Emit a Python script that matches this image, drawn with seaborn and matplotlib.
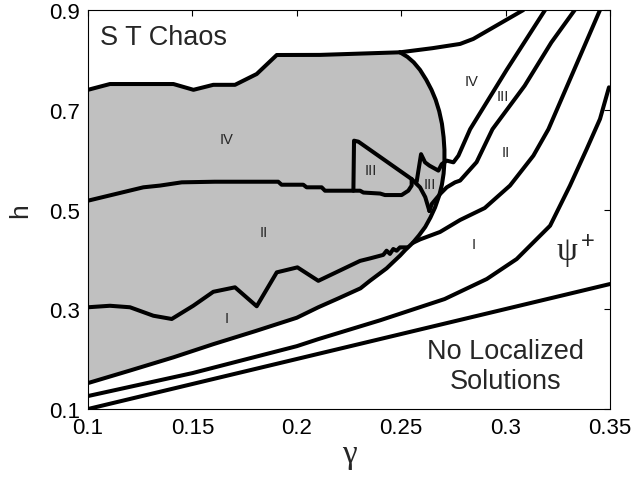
import matplotlib
matplotlib.use('Agg')
import matplotlib.pyplot as plt
import seaborn as sns

# --- phase boundaries (gamma, h) ---
top_g = [0.1, 0.1105, 0.1409, 0.1505, 0.160, 0.1704, 0.1808, 0.1904, 0.2111, 0.2494]
top_h = [0.740, 0.7516, 0.7516, 0.740, 0.750, 0.750, 0.7717, 0.8098, 0.810, 0.8152]

top_ext_g = [0.2494, 0.2650, 0.2782, 0.2845, 0.3085]
top_ext_h = [0.8152, 0.8235, 0.832, 0.842, 0.900]

# right + lower edge of the chaotic region
edge_g = [0.2494, 0.2530, 0.2560, 0.2590, 0.2620, 0.2645, 0.2665, 0.2682, 0.2695,
          0.2703, 0.2707, 0.2707, 0.2703, 0.2695, 0.2682, 0.2662, 0.2640, 0.2615,
          0.2585, 0.2555, 0.2520, 0.2494, 0.2460, 0.2430, 0.2398, 0.2350, 0.2305,
          0.2200, 0.2103, 0.2000, 0.1800, 0.1600, 0.1409, 0.1200, 0.1]
edge_h = [0.8152, 0.806, 0.795, 0.780, 0.760, 0.740, 0.720, 0.697, 0.672,
          0.645, 0.620, 0.595, 0.572, 0.550, 0.528, 0.504, 0.484, 0.465,
          0.448, 0.433, 0.419, 0.4074, 0.394, 0.382, 0.372, 0.357, 0.342,
          0.322, 0.304, 0.2830, 0.256, 0.230, 0.2036, 0.177, 0.152]

# I / II inside chaos
i_ii_g = [0.1, 0.1105, 0.1201, 0.1313, 0.1401, 0.1504, 0.1600, 0.1704, 0.1808,
          0.1904, 0.2003, 0.2103, 0.2303, 0.2351, 0.2414, 0.2430, 0.2446, 0.2462,
          0.2478, 0.2494, 0.2530]
i_ii_h = [0.304, 0.307, 0.304, 0.287, 0.2805, 0.307, 0.335, 0.344, 0.306,
          0.374, 0.384, 0.357, 0.397, 0.402, 0.409, 0.4174, 0.411, 0.4208,
          0.4174, 0.4241, 0.4241]

# II / IV inside chaos, running into the III pocket
ii_iv_g = [0.1, 0.1265, 0.1345, 0.1449, 0.1608, 0.1911, 0.1927, 0.2031, 0.2047,
           0.2119, 0.2135, 0.2271, 0.2303, 0.2319, 0.2399, 0.2422, 0.2502, 0.2534,
           0.2550, 0.2550]
ii_iv_h = [0.5177, 0.5445, 0.548, 0.5545, 0.5557, 0.5557, 0.5497, 0.5497, 0.5445,
           0.5445, 0.5377, 0.5377, 0.5377, 0.534, 0.532, 0.529, 0.529, 0.5377,
           0.548, 0.561]

# III pocket (left side + slanted side)
pocket_g = [0.2271, 0.2274, 0.2295, 0.2550, 0.2590, 0.2615, 0.2635]
pocket_h = [0.5377, 0.638, 0.636, 0.561, 0.5445, 0.525, 0.497]

# III / IV boundary (spike, then out to the top)
iii_iv_g = [0.2574, 0.2595, 0.2614, 0.2635, 0.2678, 0.2694, 0.2718, 0.2750,
            0.2774, 0.2830, 0.3005, 0.3189]
iii_iv_h = [0.556, 0.611, 0.5946, 0.588, 0.578, 0.591, 0.598, 0.5946,
            0.608, 0.661, 0.780, 0.900]

# II / III
ii_iii_g = [0.2635, 0.2646, 0.2686, 0.2718, 0.2758, 0.2782, 0.2861, 0.2937,
            0.3091, 0.3219, 0.3331]
ii_iii_h = [0.497, 0.511, 0.531, 0.5445, 0.5545, 0.558, 0.595, 0.661,
            0.748, 0.835, 0.900]

# I / II outside chaos
i_ii_out_g = [0.2555, 0.2590, 0.2686, 0.2782, 0.2900, 0.3021, 0.3133, 0.3205,
              0.3328, 0.3452]
i_ii_out_h = [0.433, 0.440, 0.455, 0.479, 0.503, 0.548, 0.608, 0.661,
              0.780, 0.900]

# psi+ boundary
psi_g = [0.1, 0.15, 0.2, 0.2102, 0.24, 0.2708, 0.2910, 0.3053, 0.3213,
         0.3308, 0.3388, 0.3452, 0.3495]
psi_h = [0.126, 0.172, 0.226, 0.240, 0.278, 0.3205, 0.3607, 0.4007, 0.4675,
         0.5477, 0.621, 0.6815, 0.745]

# no localized solutions boundary
nls_g = [0.1, 0.21, 0.35]
nls_h = [0.1, 0.2103, 0.3506]

region_labels = ['IV', 'II', 'I', 'III', 'III', 'IV', 'III', 'II', 'I']
region_g = [0.1664, 0.184, 0.1664, 0.2354, 0.2635, 0.2836, 0.2988, 0.300, 0.2845]
region_h = [0.641, 0.454, 0.2825, 0.580, 0.551, 0.758, 0.728, 0.6147, 0.431]

sns.set_style('white')
plt.rcParams['font.family'] = ['Liberation Sans', 'DejaVu Sans']

fig = plt.figure(figsize=(6.37, 4.81), dpi=100)
ax = fig.add_axes([0.13815, 0.1476, 0.8195, 0.8295])

# shaded chaotic region
ax.fill(top_g + edge_g[1:], top_h + edge_h[1:], color='#c0c0c0', lw=0, zorder=1)

LW = 2.9
curves = [(top_g, top_h), (top_ext_g, top_ext_h), (edge_g, edge_h),
          (i_ii_g, i_ii_h), (ii_iv_g, ii_iv_h), (pocket_g, pocket_h),
          (iii_iv_g, iii_iv_h), (ii_iii_g, ii_iii_h), (i_ii_out_g, i_ii_out_h),
          (psi_g, psi_h), (nls_g, nls_h)]
for g, h in curves:
    sns.lineplot(x=g, y=h, sort=False, estimator=None, color='black',
                 linewidth=LW, ax=ax, zorder=3)

for lab, g, h in zip(region_labels, region_g, region_h):
    ax.text(g, h, lab, fontsize=10.5, ha='center', va='center', zorder=4)

ax.text(0.1057, 0.846, 'S T Chaos', fontsize=19.5, ha='left', va='center')
ax.text(0.300, 0.187, 'No Localized\nSolutions', fontsize=19.5,
        ha='center', va='center', linespacing=1.2)
ax.text(0.3246, 0.401, 'ψ', fontsize=24, family='Liberation Serif',
        ha='left', va='baseline')
ax.text(0.3395, 0.437, '+', fontsize=17, ha='center', va='center')

ax.set_xlim(0.1, 0.35)
ax.set_ylim(0.1, 0.9)
ax.set_xticks([0.1, 0.15, 0.2, 0.25, 0.3, 0.35])
ax.set_xticklabels(['0.1', '0.15', '0.2', '0.25', '0.3', '0.35'])
ax.set_yticks([0.1, 0.3, 0.5, 0.7, 0.9])
ax.set_yticklabels(['0.1', '0.3', '0.5', '0.7', '0.9'])
ax.tick_params(direction='in', length=4, width=0.8, top=True, right=True,
               labelsize=16, pad=6, colors='black')
for sp in ax.spines.values():
    sp.set_color('black')
    sp.set_linewidth(0.8)

ax.set_xlabel('γ', fontsize=24, family='Liberation Serif', labelpad=0)
ax.set_ylabel('h', fontsize=19, labelpad=12)

fig.savefig('out.png', dpi=100)
plt.close()
